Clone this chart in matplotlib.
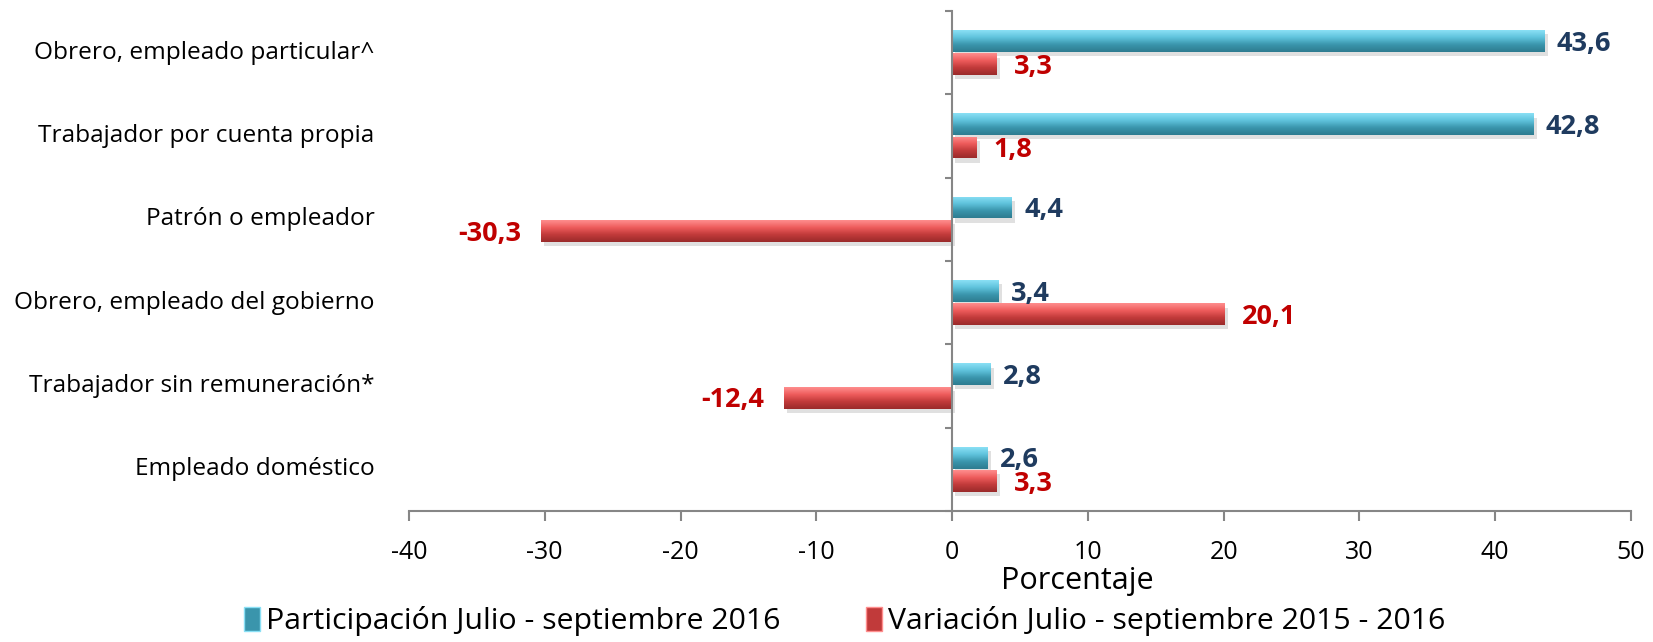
import matplotlib
matplotlib.use("Agg")
import matplotlib.pyplot as plt
import numpy as np
from matplotlib.colors import LinearSegmentedColormap
from matplotlib.patches import Rectangle

categories = [
    "Obrero, empleado particular^",
    "Trabajador por cuenta propia",
    "Patrón o empleador",
    "Obrero, empleado del gobierno",
    "Trabajador sin remuneración*",
    "Empleado doméstico",
]
participacion = [43.6, 42.8, 4.4, 3.4, 2.8, 2.6]
variacion = [3.3, 1.8, -30.3, 20.1, -12.4, 3.3]
series_names = ["Participación Julio - septiembre 2016",
                "Variación Julio - septiembre 2015 - 2016"]
xticks = [-40, -30, -20, -10, 0, 10, 20, 30, 40, 50]

plt.rcParams['font.family'] = ['Open Sans', 'DejaVu Sans']

fig = plt.figure(figsize=(16.53, 6.42), dpi=100)
ax = fig.add_axes([0.2474, 0.204, 0.7393, 0.779])

blue_cmap = LinearSegmentedColormap.from_list(
    "b", ["#8AE0F5", "#5FC3DC", "#3A95AC", "#2E7C90"])
red_cmap = LinearSegmentedColormap.from_list(
    "r", ["#FF8E8E", "#EE5C5C", "#C13A3A", "#9A2B2B"])

y = np.arange(len(categories))
h = 0.26
off = 0.14
bars_b = ax.barh(y - off, participacion, height=h, color="#4BAFC8", zorder=2)
bars_r = ax.barh(y + off, variacion, height=h, color="#D84545", zorder=2)

grad = np.linspace(0, 1, 64).reshape(-1, 1)
for bars, cmap in ((bars_b, blue_cmap), (bars_r, red_cmap)):
    for p in bars:
        x0, y0 = p.get_x(), p.get_y()
        w, hh = p.get_width(), p.get_height()
        ax.add_patch(Rectangle((x0 + 0.25, y0 + 0.05), w, hh, color="#000000",
                               alpha=0.12, lw=0, zorder=1))
        im = ax.imshow(grad, cmap=cmap, aspect="auto",
                       extent=(x0, x0 + w, y0 + hh, y0), origin="upper",
                       zorder=3, interpolation="bicubic")
        im.set_clip_path(p)

ax.set_xlim(-40, 50)
ax.set_ylim(5.5, -0.5)

def fmt(v):
    return f"{v:.1f}".replace(".", ",")

for yi, v in zip(y, participacion):
    ax.annotate(fmt(v), xy=(v, yi - off), xytext=(9 if v >= 0 else -12, -2),
                textcoords="offset points", ha="left" if v >= 0 else "right",
                va="center", fontsize=19.5, fontweight="bold", color="#1F3B5F",
                zorder=5)
for yi, v in zip(y, variacion):
    ax.annotate(fmt(v), xy=(v, yi + off), xytext=(12 if v >= 0 else -14, -2),
                textcoords="offset points", ha="left" if v >= 0 else "right",
                va="center", fontsize=19.5, fontweight="bold", color="#C00000",
                zorder=5)

for s in ("top", "right"):
    ax.spines[s].set_visible(False)
ax.spines["left"].set_position(("data", 0))
ax.spines["left"].set_color("#868686")
ax.spines["left"].set_linewidth(1.5)
ax.spines["left"].set_zorder(4)
ax.spines["bottom"].set_color("#868686")
ax.spines["bottom"].set_linewidth(1.5)

ax.set_yticks(np.arange(-0.5, len(categories), 1.0))
ax.set_yticklabels([])
ax.tick_params(axis="y", length=5, width=1.5, color="#868686", direction="out")

ax.set_xticks(xticks)
ax.set_xticklabels([str(t) for t in xticks])
ax.tick_params(axis="x", length=7, width=1.5, color="#868686",
               labelsize=18, pad=14)

for yi, c in zip(y, categories):
    ax.text(-0.028, yi, c, transform=ax.get_yaxis_transform(), ha="right",
            va="center", fontsize=17.6, color="black")

ax.set_xlabel("Porcentaje", fontsize=22)
ax.xaxis.set_label_coords(0.547, -0.11)

handles = [Rectangle((0, 0), 1, 1, facecolor="#3A95AC", edgecolor="#8AE0F5", lw=1),
           Rectangle((0, 0), 1, 1, facecolor="#C13A3A", edgecolor="#FF8E8E", lw=1)]
fig.legend(handles, series_names, loc="center", bbox_to_anchor=(0.511, 0.032),
           ncol=2, frameon=False, fontsize=21.8, handlelength=0.55,
           handleheight=0.85, handletextpad=0.2, columnspacing=2.8,
           borderpad=0.1)

fig.savefig("out.png", dpi=100)
